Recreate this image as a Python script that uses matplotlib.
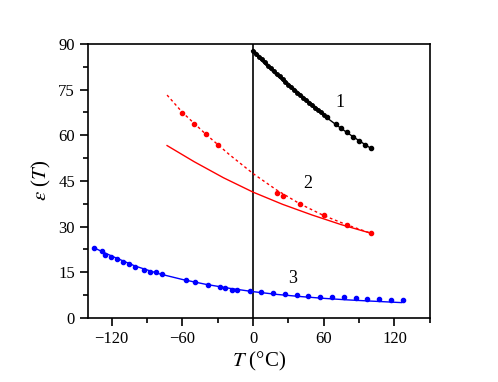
import numpy as np
import matplotlib
matplotlib.use("Agg")
import matplotlib.pyplot as plt
from matplotlib.ticker import MultipleLocator

plt.rcParams['font.family'] = ['Liberation Serif', 'DejaVu Serif']
plt.rcParams['mathtext.fontset'] = 'stix'

# curve 1 (black): dense points 0..60, sparse 63..100
t1_dense = [0, 2.5, 5, 7.5, 10, 12.5, 15, 17.5, 20, 22.5, 25, 27.5, 30, 32.5, 35, 37.5,
            40, 42.5, 45, 47.5, 50, 52.5, 55, 57.5, 60]
e1_dense = [87.7, 86.8, 85.8, 84.9, 83.9, 82.9, 82.0, 81.1, 80.1, 79.3, 78.4, 77.5, 76.6,
            75.7, 74.9, 74.0, 73.2, 72.3, 71.5, 70.7, 69.9, 69.1, 68.3, 67.6, 66.8]
t1_sparse = [63, 70, 75, 80, 85, 90, 95, 100]
e1_sparse = [65.9, 63.8, 62.3, 60.9, 59.5, 58.2, 56.9, 55.9]
t1_fit = [0, 10, 20, 30, 40, 50, 60, 70, 80, 90, 100]
e1_fit = [87.3, 83.5, 79.8, 76.3, 72.9, 69.6, 66.5, 63.6, 60.8, 58.2, 55.7]

# curve 2 (red)
t2_pts = [-60, -50, -40, -30, 20, 25, 40, 60, 80, 100]
e2_pts = [67.3, 63.8, 60.3, 56.7, 41.1, 40.1, 37.5, 33.8, 30.6, 27.8]
t2_dash = [-73, -60, -40, -20, 0, 20, 40, 60, 80, 100]
e2_dash = [73.2, 67.5, 60.3, 53.6, 47.4, 42.0, 37.4, 33.6, 30.5, 27.8]
t2_solid = [-73, -50, -25, 0, 25, 50, 75, 100]
e2_solid = [56.6, 51.3, 46.0, 41.3, 37.3, 33.8, 30.6, 27.8]

# curve 3 (blue)
t3_pts = [-135, -128, -126, -121, -115.5, -110.5, -105.5, -100, -92.5, -87.5, -82.5, -77.5,
          -57, -49, -38.5, -28, -23.5, -18, -13.5, -3, 7, 17, 27, 37, 47, 57, 67, 77, 87,
          97, 107, 117, 127]
e3_pts = [23.1, 21.8, 20.8, 20.1, 19.2, 18.4, 17.6, 16.6, 15.7, 15.2, 15.2, 14.3,
          12.5, 11.8, 10.7, 10.0, 9.8, 9.3, 9.2, 8.9, 8.4, 8.1, 7.9, 7.6, 7.3, 7.0, 6.8, 6.7, 6.5,
          6.3, 6.1, 6.0, 5.9]
t3_fit = [-135, -120, -100, -80, -60, -40, -20, 0, 20, 40, 60, 80, 100, 126]
e3_fit = [23.0, 20.3, 17.0, 14.5, 12.6, 11.0, 9.7, 8.6, 7.7, 7.0, 6.4, 5.9, 5.5, 5.0]

fig = plt.figure(figsize=(4.98, 3.82), dpi=100)
ax = fig.add_axes([0.177, 0.168, 0.686, 0.717])

ax.axvline(0, color='black', lw=1.2, zorder=1)

ax.plot(t1_fit, e1_fit, color='black', lw=1.0)
ax.plot(t1_dense, e1_dense, color='black', lw=2.5)
ax.plot(t1_dense, e1_dense, 'o', color='black', ms=2.5)
ax.plot(t1_sparse, e1_sparse, 'o', color='black', ms=3)

ax.plot(t2_dash, e2_dash, color='red', lw=1.0, ls=(0, (2, 2)))
ax.plot(t2_solid, e2_solid, color='red', lw=1.0)
ax.plot(t2_pts, e2_pts, 'o', color='red', ms=3)

ax.plot(t3_fit, e3_fit, color='blue', lw=1.0)
ax.plot(t3_pts, e3_pts, 'o', color='blue', ms=3)

ax.text(74, 70.6, '1', fontsize=13, ha='center', va='center')
ax.text(46, 44, '2', fontsize=13, ha='center', va='center')
ax.text(34, 12.8, '3', fontsize=13, ha='center', va='center')

ax.set_xlim(-140, 150)
ax.set_ylim(0, 90)
ax.xaxis.set_major_locator(MultipleLocator(60))
ax.xaxis.set_minor_locator(MultipleLocator(30))
ax.yaxis.set_major_locator(MultipleLocator(15))
ax.yaxis.set_minor_locator(MultipleLocator(7.5))
ax.tick_params(which='both', direction='out', top=False, right=False, labelsize=12, width=1.2)
ax.tick_params(which='major', length=6)
ax.tick_params(which='minor', length=3.5)
for s in ax.spines.values():
    s.set_linewidth(1.2)

ax.set_xlabel(r'$T$ (°C)', fontsize=15, labelpad=2)
ax.set_ylabel(r'$\varepsilon$ ($T$)', fontsize=15, labelpad=4)

fig.savefig('out.png', dpi=100)
